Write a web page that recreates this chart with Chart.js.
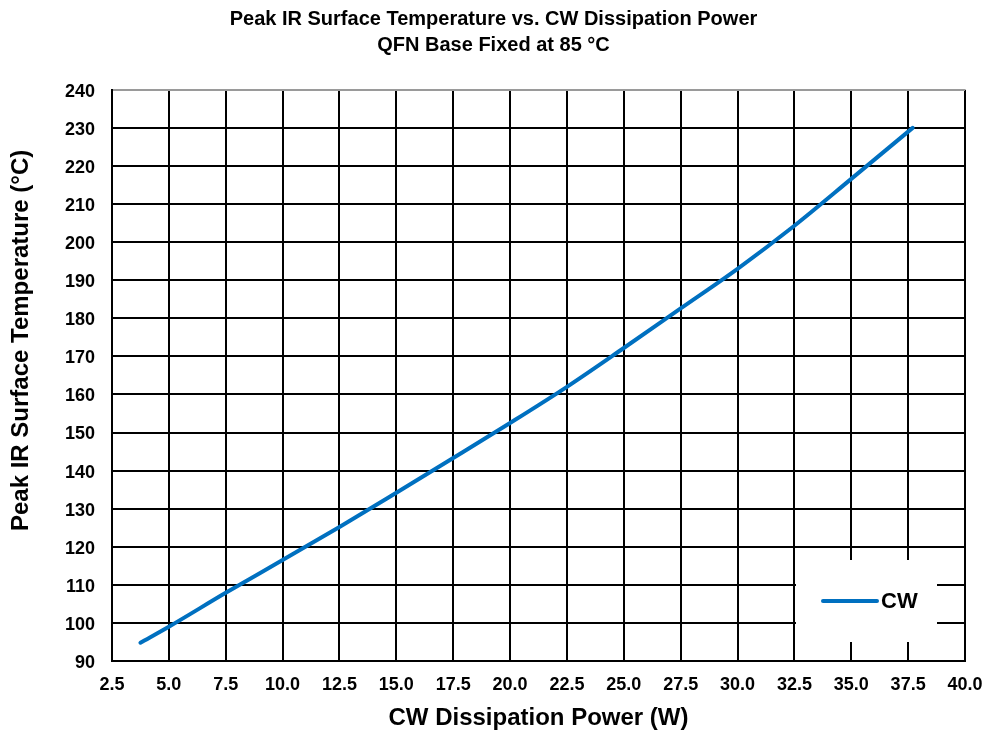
<!DOCTYPE html>
<html>
<head>
<meta charset="utf-8">
<script src="https://cdn.jsdelivr.net/npm/chart.js@4"></script>
<style>
  html, body { margin: 0; padding: 0; background: #fff; }
  #chart { display: block; }
</style>
</head>
<body>
<canvas id="chart" width="987" height="735"></canvas>
<script>
// CW dissipation power (W) and peak IR surface temperature (°C)
const power = [3.75, 5.0, 7.5, 10.0, 12.5, 15.0, 17.5, 20.0, 22.5, 25.0, 27.5, 30.0, 32.5, 35.0, 37.7];
const temperature = [94.8, 99.0, 107.9, 116.5, 125.2, 134.2, 143.3, 152.5, 162.0, 172.2, 182.6, 193.0, 204.3, 216.6, 230.0];

const seriesLabel = 'CW';
const titleLines = ['Peak IR Surface Temperature vs. CW Dissipation Power', 'QFN Base Fixed at 85 °C'];
const xTitle = 'CW Dissipation Power (W)';
const yTitle = 'Peak IR Surface Temperature (°C)';
const xRange = [2.5, 40.0, 2.5];
const yRange = [90, 240, 10];

const FONT = '"Liberation Sans", Arial, sans-serif';
const LINE_COLOR = '#0070C0';

// Boxed legend inside the lower-right corner of the plot
const insetLegend = {
  id: 'insetLegend',
  beforeDatasetsDraw(chart) {
    const { ctx, chartArea } = chart;
    const w = 141, h = 82;
    const right = chartArea.right - 28;
    const bottom = chartArea.bottom - 19;
    const left = right - w, top = bottom - h;
    const cy = top + h / 2;
    ctx.save();
    ctx.fillStyle = '#fff';
    ctx.fillRect(left, top, w, h);
    ctx.strokeStyle = LINE_COLOR;
    ctx.lineWidth = 4;
    ctx.lineCap = 'round';
    ctx.beginPath();
    ctx.moveTo(left + 27, cy);
    ctx.lineTo(left + 81, cy);
    ctx.stroke();
    ctx.fillStyle = '#000';
    ctx.font = 'bold 22px ' + FONT;
    ctx.textBaseline = 'middle';
    ctx.textAlign = 'left';
    ctx.fillText(chart.data.datasets[0].label, left + 85, cy + 1);
    ctx.restore();
  }
};

// Vertical axis title, set a little above the middle of the axis
const yAxisTitle = {
  id: 'yAxisTitle',
  afterDraw(chart) {
    const { ctx, chartArea } = chart;
    ctx.save();
    ctx.translate(21, (chartArea.top + chartArea.bottom) / 2 - 35);
    ctx.rotate(-Math.PI / 2);
    ctx.fillStyle = '#000';
    ctx.font = 'bold 24px ' + FONT;
    ctx.textAlign = 'center';
    ctx.textBaseline = 'middle';
    ctx.fillText(yTitle, 0, 0);
    ctx.restore();
  }
};

new Chart(document.getElementById('chart'), {
  type: 'line',
  data: {
    datasets: [{
      label: seriesLabel,
      data: power.map((p, i) => ({ x: p, y: temperature[i] })),
      borderColor: LINE_COLOR,
      backgroundColor: LINE_COLOR,
      borderWidth: 4,
      borderCapStyle: 'round',
      pointRadius: 0,
      cubicInterpolationMode: 'monotone',
      fill: false
    }]
  },
  options: {
    responsive: false,
    animation: false,
    layout: { padding: { left: 22, right: 22, top: 0, bottom: 2 } },
    plugins: {
      legend: { display: false },
      tooltip: { enabled: false },
      title: {
        display: true,
        text: titleLines,
        color: '#000',
        font: { family: FONT, size: 20, weight: 'bold', lineHeight: 1.32 },
        padding: { top: 6, bottom: 31 }
      }
    },
    scales: {
      x: {
        type: 'linear',
        min: xRange[0], max: xRange[1],
        afterFit(scale) {
          scale.height = 72;
          scale.paddingLeft = 0;
          scale.paddingRight = 0;
        },
        ticks: {
          stepSize: xRange[2],
          color: '#000',
          padding: 13,
          maxRotation: 0,
          autoSkip: false,
          font: { family: FONT, size: 18, weight: 'bold' },
          callback: v => Number(v).toFixed(1)
        },
        grid: { color: '#000', lineWidth: 2, drawTicks: false },
        border: { color: '#000', width: 2 },
        title: {
          display: true,
          text: xTitle,
          color: '#000',
          font: { family: FONT, size: 24, weight: 'bold' },
          padding: { top: 0, bottom: 0 }
        }
      },
      y: {
        type: 'linear',
        min: yRange[0], max: yRange[1],
        afterFit(scale) {
          scale.width = 90;
          scale.paddingTop = 0;
          scale.paddingBottom = 0;
        },
        ticks: {
          stepSize: yRange[2],
          color: '#000',
          padding: 17,
          labelOffset: 2,
          autoSkip: false,
          font: { family: FONT, size: 18, weight: 'bold' }
        },
        grid: {
          color: c => (c.tick && c.tick.value === yRange[1]) ? '#9a9a9a' : '#000',
          lineWidth: 2,
          drawTicks: false
        },
        border: { color: '#000', width: 2 },
        title: { display: false }
      }
    }
  },
  plugins: [insetLegend, yAxisTitle]
});
</script>
</body>
</html>
